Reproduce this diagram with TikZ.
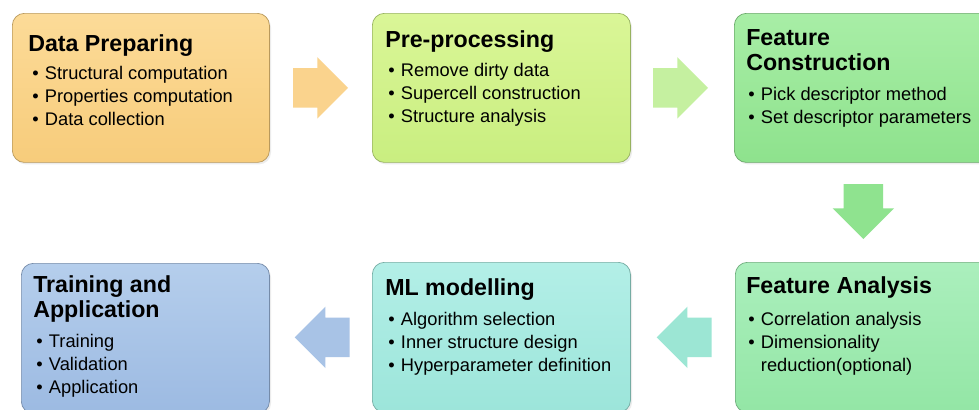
\documentclass[tikz,border=0pt]{standalone}
\usepackage{fontspec}
\setmainfont{Liberation Sans}
\usetikzlibrary{shapes.arrows,shadows}

\definecolor{prepTop}{HTML}{FCDB98}
\definecolor{prepBot}{HTML}{F7CC7B}
\definecolor{preTop}{HTML}{DAF697}
\definecolor{preBot}{HTML}{C9EE80}
\definecolor{fconTop}{HTML}{A8EEA6}
\definecolor{fconBot}{HTML}{8EE28D}
\definecolor{fanaTop}{HTML}{ABEFBD}
\definecolor{fanaBot}{HTML}{93E6A5}
\definecolor{mlTop}{HTML}{B3EFE7}
\definecolor{mlBot}{HTML}{9CE5DA}
\definecolor{trainTop}{HTML}{B5CEEC}
\definecolor{trainBot}{HTML}{9CBAE2}
\definecolor{arrOrange}{HTML}{FAD38D}
\definecolor{arrLime}{HTML}{C5F0A0}
\definecolor{arrGreen}{HTML}{8FE38F}
\definecolor{arrTeal}{HTML}{9CE6D4}
\definecolor{arrBlue}{HTML}{A8C3E6}

\newcommand{\stagehead}[1]{\begin{tabular}[t]{@{}l@{}}#1\end{tabular}}
\newcommand{\stagelist}[1]{\begin{tabular}[t]{@{}l@{}}#1\end{tabular}}
\newcommand{\bul}{\makebox[9pt][l]{\textbullet}}

\tikzset{
  stagebox/.style 2 args={rectangle, draw=#2!75!black, line width=0.5pt,
    rounded corners=0.3cm, top color=#1, bottom color=#2,
    drop shadow={opacity=0.15, shadow xshift=0.04cm, shadow yshift=-0.05cm}},
  stagetitle/.style={anchor=base west, inner sep=0pt,
    font=\bfseries\fontsize{16.5}{17.8}\selectfont},
  stageitems/.style={anchor=base west, inner sep=0pt,
    font=\fontsize{13}{16.4}\selectfont},
  stagearrow/.style={single arrow, fill=#1, draw=none, anchor=tail,
    inner xsep=0pt, inner ysep=0.4875cm, minimum height=1.375cm,
    single arrow head extend=0.275cm, single arrow head indent=0pt},
  downarrow/.style={stagearrow=#1, shape border rotate=270,
    inner xsep=0.4875cm, inner ysep=0pt}
}

\begin{document}
\begin{tikzpicture}[x=0.025cm,y=-0.025cm]
\useasboundingbox (0,0) rectangle (979,409);
\fill[white] (0,0) rectangle (979,409);
\clip (0,0) rectangle (979,409);

% top row
\node[stagebox={prepTop}{prepBot}, minimum width=6.425cm, minimum height=3.725cm, anchor=north west] (prep) at (12,13) {};
\node[stagebox={preTop}{preBot}, minimum width=6.45cm, minimum height=3.725cm, anchor=north west] (pre) at (372,13) {};
\node[stagebox={fconTop}{fconBot}, minimum width=6.45cm, minimum height=3.725cm, anchor=north west] (fcon) at (734,13) {};

% bottom row (runs off the page)
\node[stagebox={trainTop}{trainBot}, minimum width=6.2cm, minimum height=3.75cm, anchor=north west] (train) at (21,263) {};
\node[stagebox={mlTop}{mlBot}, minimum width=6.45cm, minimum height=3.75cm, anchor=north west] (ml) at (372,262) {};
\node[stagebox={fanaTop}{fanaBot}, minimum width=6.45cm, minimum height=3.75cm, anchor=north west] (fana) at (735,262) {};

% texts
\node[stagetitle] (prep-title) at (28,51) {Data Preparing};
\node[stageitems] (prep-items) at (32,79) {\stagelist{\bul Structural computation\\ \bul Properties computation\\ \bul Data collection}};

\node[stagetitle] (pre-title) at (385,47) {Pre-processing};
\node[stageitems] (pre-items) at (388,76) {\stagelist{\bul Remove dirty data\\ \bul Supercell construction\\ \bul Structure analysis}};

\node[stagetitle] (fcon-title) at (746,45) {\stagehead{Feature\\ Construction}};
\node[stageitems] (fcon-items) at (748,100) {\stagelist{\bul Pick descriptor method\\ \bul Set descriptor parameters}};

\node[stagetitle] (fana-title) at (746,293) {Feature Analysis};
\node[stageitems] (fana-items) at (748,325) {\stagelist{\bul Correlation analysis\\ \bul Dimensionality\\ \hspace*{9pt}reduction(optional)}};

\node[stagetitle] (ml-title) at (385,295) {ML modelling};
\node[stageitems] (ml-items) at (388,325) {\stagelist{\bul Algorithm selection\\ \bul Inner structure design\\ \bul Hyperparameter definition}};

\node[stagetitle] (train-title) at (33,292) {\stagehead{Training and\\ Application}};
\node[stageitems] (train-items) at (36,347) {\stagelist{\bul Training\\ \bul Validation\\ \bul Application}};

% block arrows between the stages
\node[stagearrow=arrOrange] (a1) at ([xshift=0.575cm]prep.east) {};
\node[stagearrow=arrLime] (a2) at ([xshift=0.55cm]pre.east) {};
\node[downarrow=arrGreen] (a3) at ([yshift=-0.525cm]fcon.south) {};
\node[stagearrow=arrTeal, shape border rotate=180] (a4) at ([xshift=-0.575cm]fana.west) {};
\node[stagearrow=arrBlue, shape border rotate=180] (a5) at ([xshift=-0.55cm]ml.west) {};
\end{tikzpicture}
\end{document}
